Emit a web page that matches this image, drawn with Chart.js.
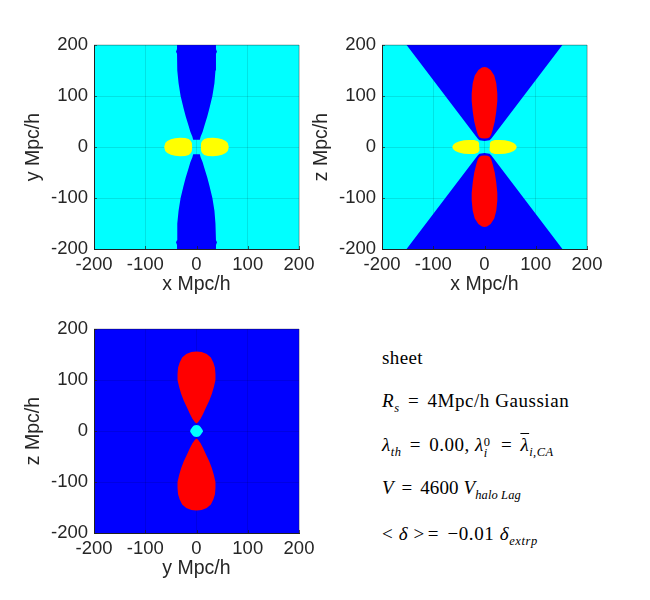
<!DOCTYPE html>
<html>
<head>
<meta charset="utf-8">
<script src="https://cdn.jsdelivr.net/npm/chart.js@4"></script>
<style>
body { margin: 0; background: #fff; }
canvas { position: absolute; }
.note { position: absolute; left: 382px; font: 19px "Liberation Serif", serif; color: #000; white-space: nowrap; line-height: 20px; }
.note i { font-style: italic; }
.note b { font-weight: normal; margin: 0 3px; }
.note sub, .note sup { font-size: 12.5px; line-height: 0; }
.bar { text-decoration: overline; }
.stack { display: inline-block; position: relative; width: 9px; height: 10px; }
.stack span { position: absolute; left: 0; font-size: 12.5px; line-height: 12px; }
</style>
</head>
<body>
<canvas id="xy" style="left:0;top:25px"></canvas>
<canvas id="xz" style="left:288px;top:25px"></canvas>
<canvas id="yz" style="left:0;top:309px"></canvas>
<div class="note" style="top:348px;letter-spacing:0.4px">sheet</div>
<div class="note" style="top:391px;letter-spacing:0.55px"><i>R<sub>s</sub></i> <b>=</b> 4Mpc/h Gaussian</div>
<div class="note" style="top:435px;letter-spacing:0.5px"><i>λ<sub>th</sub></i> <b>=</b> 0.00, <i>λ</i><span class="stack"><span style="top:-5px">0</span><span style="top:6px"><i>i</i></span></span> <b>=</b> <i class="bar">λ</i><i><sub>i,CA</sub></i></div>
<div class="note" style="top:478px;letter-spacing:0.1px"><i>V</i> <b>=</b> 4600 <i>V<sub>halo Lag</sub></i></div>
<div class="note" style="top:524px;letter-spacing:0.6px">&lt; <i>δ</i> &gt;<b>=</b> −0.01 <i>δ<sub>extrp</sub></i></div>
<script>
const tickStep = 100
const axisMin = -200
const axisMax = 200

// x-y panel, upper right quarter of each shape
const xyBlueY = [14, 20, 30, 40, 50, 60, 75, 100, 125, 150, 170, 183, 187, 192, 200]
const xyBlueX = [6.5, 8, 12, 15, 18, 21, 25, 31, 35, 37, 38, 38, 40, 38, 38]
const xyYellowX = [8.5, 9, 11, 15, 22, 32, 42, 50, 57, 61, 63]
const xyYellowY = [0, 8, 12, 15.5, 17.5, 18, 17, 15, 12, 8, 0]

// x-z panel
const xzBlueY = [12, 13, 16, 20, 200]
const xzBlueX = [0, 10, 13, 16, 152]
const xzRedY = [16.5, 17, 19, 24, 34, 50, 70, 90, 105, 125, 140, 151, 156, 157]
const xzRedX = [0, 6, 10, 13, 16, 20, 23, 25, 25, 23, 19, 12, 5, 0]
const xzYellowX = [10, 10.5, 13, 20, 30, 40, 50, 57, 61, 63]
const xzYellowY = [0, 8, 11.5, 13.5, 13.5, 13, 11, 8, 4.5, 0]

// y-z panel
const yzRedY = [14.5, 17, 24, 34, 47, 60, 73, 87, 100, 112, 124, 134, 144, 151, 155, 156]
const yzRedX = [0, 3, 8, 13, 19, 25, 30, 34, 37, 37, 36, 33, 28, 20, 10, 0]
const yzCyanX = [0, 5, 8, 12, 12.5]
const yzCyanY = [12, 11, 8, 2, 0]

const cyan = '#00ffff'
const blue = '#0000ff'
const red = '#ff0000'
const yellow = '#ffff00'
const textColor = '#262626'

// lobe standing on the y axis: go up the right edge and down the left one
let lobe = (xs, ys, signY) => {
    let right = xs.map((x, i) => ({x: x, y: signY * ys[i]}))
    let left = xs.map((x, i) => ({x: -x, y: signY * ys[i]})).reverse()
    return right.concat(left)
}

// lobe standing on the x axis
let sideLobe = (xs, ys, signX) => {
    let upper = xs.map((x, i) => ({x: signX * x, y: ys[i]}))
    let lower = xs.map((x, i) => ({x: signX * x, y: -ys[i]})).reverse()
    return upper.concat(lower)
}

let shape = (points, color) => ({
    data: points,
    showLine: true,
    fill: 'shape',
    backgroundColor: color,
    borderWidth: 0,
    pointRadius: 0,
    tension: 0
})

let axis = (title, size, extra) => ({
    type: 'linear',
    min: axisMin,
    max: axisMax,
    z: 1,
    afterFit: (scale) => {
        if (scale.isHorizontal()) scale.height = size
        else scale.width = size
    },
    grid: {color: 'rgba(0,0,0,0.11)', lineWidth: 1, drawTicks: false},
    border: {color: '#222222', width: 1},
    ticks: Object.assign({
        stepSize: tickStep,
        color: textColor,
        maxRotation: 0,
        font: {family: '"Liberation Sans"', size: 18.5}
    }, extra.ticks),
    title: {
        display: true,
        text: title,
        color: textColor,
        font: {family: '"Liberation Sans"', size: 19.5},
        padding: extra.title
    }
})

let panelBack = (color) => ({
    id: 'panelBack',
    beforeDraw: (chart) => {
        let a = chart.chartArea
        chart.ctx.fillStyle = color
        chart.ctx.fillRect(a.left, a.top, a.right - a.left, a.bottom - a.top)
    },
    afterDraw: (chart) => {
        let a = chart.chartArea
        let ctx = chart.ctx
        ctx.strokeStyle = 'rgba(30,30,30,0.3)'
        ctx.lineWidth = 1
        ctx.beginPath()
        ctx.moveTo(a.left, a.top)
        ctx.lineTo(a.right, a.top)
        ctx.lineTo(a.right, a.bottom)
        ctx.stroke()

        // short inward ticks on the left and bottom axes
        ctx.strokeStyle = 'rgba(30,30,30,0.7)'
        ctx.beginPath()
        chart.scales.y.ticks.forEach((t) => {
            let py = Math.round(chart.scales.y.getPixelForValue(t.value)) + 0.5
            ctx.moveTo(a.left, py)
            ctx.lineTo(a.left + 3, py)
        })
        chart.scales.x.ticks.forEach((t) => {
            let px = Math.round(chart.scales.x.getPixelForValue(t.value)) + 0.5
            ctx.moveTo(px, a.bottom)
            ctx.lineTo(px, a.bottom - 3)
        })
        ctx.stroke()
    }
})

let panel = (id, datasets, back, xTitle, yTitle) => {
    let canvas = document.getElementById(id)
    canvas.style.width = '320px'
    canvas.style.height = '280px'
    new Chart(canvas, {
        type: 'scatter',
        data: {datasets: datasets},
        plugins: [panelBack(back)],
        options: {
            responsive: false,
            animation: false,
            devicePixelRatio: 1,
            layout: {padding: {left: 0, right: 21, top: 20, bottom: 0}},
            plugins: {legend: {display: false}, tooltip: {enabled: false}},
            scales: {
                x: axis(xTitle, 56, {ticks: {padding: 5}, title: {top: 0, bottom: 9}}),
                y: axis(yTitle, 94, {ticks: {padding: 6}, title: {top: 22, bottom: 0}})
            }
        }
    })
}

document.querySelectorAll('canvas').forEach((c) => { c.width = 320; c.height = 280 })

panel('xy', [
    shape(sideLobe(xyYellowX, xyYellowY, 1), yellow),
    shape(sideLobe(xyYellowX, xyYellowY, -1), yellow),
    shape(lobe(xyBlueX, xyBlueY, 1), blue),
    shape(lobe(xyBlueX, xyBlueY, -1), blue)
], cyan, 'x Mpc/h', 'y Mpc/h')

panel('xz', [
    shape(sideLobe(xzYellowX, xzYellowY, 1), yellow),
    shape(sideLobe(xzYellowX, xzYellowY, -1), yellow),
    shape(lobe(xzRedX, xzRedY, 1), red),
    shape(lobe(xzRedX, xzRedY, -1), red),
    shape(lobe(xzBlueX, xzBlueY, 1), blue),
    shape(lobe(xzBlueX, xzBlueY, -1), blue)
], cyan, 'x Mpc/h', 'z Mpc/h')

panel('yz', [
    shape(lobe(yzCyanX, yzCyanY, 1).concat(lobe(yzCyanX, yzCyanY, -1)), cyan),
    shape(lobe(yzRedX, yzRedY, 1), red),
    shape(lobe(yzRedX, yzRedY, -1), red)
], blue, 'y Mpc/h', 'z Mpc/h')
</script>
</body>
</html>
